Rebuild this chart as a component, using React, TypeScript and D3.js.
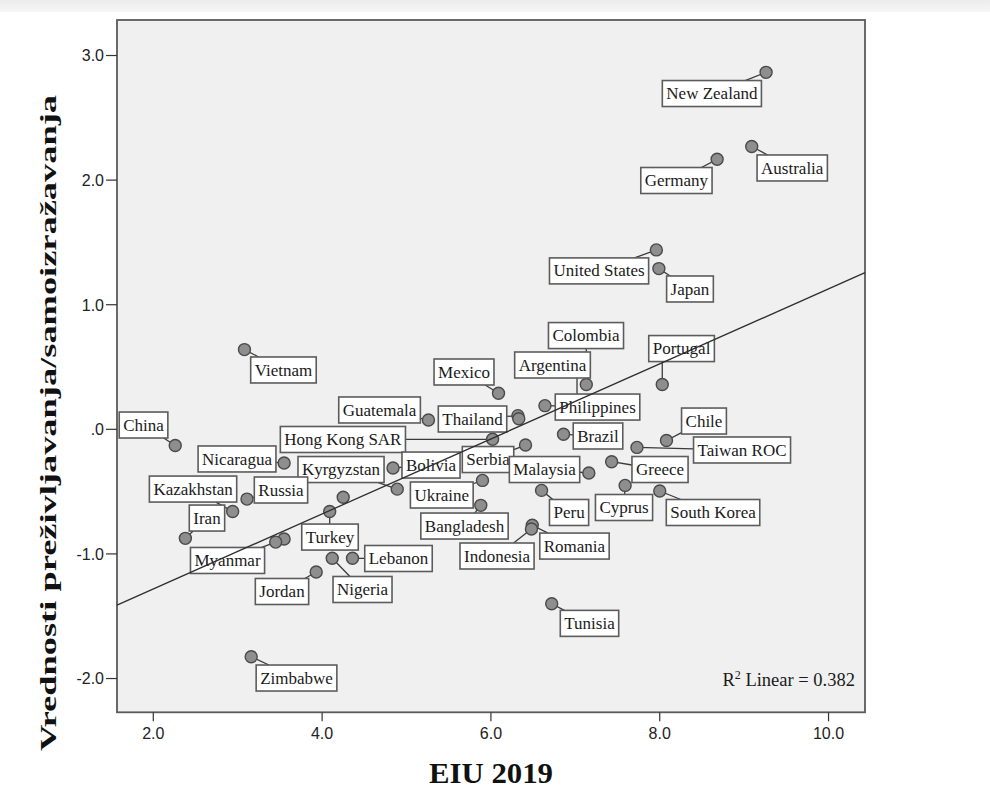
import React, { useEffect, useRef } from "react";
import * as d3 from "d3";

// ---- data ----
const countries = [
  "New Zealand", "Australia", "Germany", "United States", "Japan", "Colombia",
  "Argentina", "Portugal", "Mexico", "Philippines", "Thailand", "Brazil",
  "Chile", "Taiwan ROC", "Serbia", "Malaysia", "Greece", "Hong Kong SAR",
  "Peru", "Cyprus", "South Korea", "Ukraine", "Bangladesh", "Romania",
  "Indonesia", "Tunisia", "Guatemala", "Vietnam", "China", "Nicaragua",
  "Bolivia", "Kyrgyzstan", "Kazakhstan", "Russia", "Iran", "Myanmar",
  "Turkey", "Lebanon", "Nigeria", "Jordan", "Zimbabwe", "", "", "",
];
const eiu2019 = [
  9.26, 9.09, 8.68, 7.96, 7.99, 7.13,
  7.02, 8.03, 6.09, 6.64, 6.32, 6.86,
  8.08, 7.73, 6.41, 7.16, 7.43, 6.02,
  6.6, 7.59, 8.0, 5.9, 5.88, 6.49,
  6.48, 6.72, 5.26, 3.08, 2.26, 3.55,
  4.84, 4.89, 2.94, 3.11, 2.38, 3.55,
  4.09, 4.36, 4.12, 3.93, 3.16, 4.25, 3.45, 6.33,
];
const survivalSelfExpression = [
  2.865, 2.27, 2.167, 1.44, 1.29, 0.36,
  0.2, 0.36, 0.29, 0.19, 0.11, -0.04,
  -0.09, -0.145, -0.126, -0.35, -0.26, -0.08,
  -0.49, -0.45, -0.495, -0.41, -0.61, -0.77,
  -0.8, -1.4, 0.075, 0.64, -0.13, -0.27,
  -0.31, -0.48, -0.66, -0.56, -0.875, -0.88,
  -0.66, -1.035, -1.035, -1.145, -1.825, -0.545, -0.905, 0.085,
];

// label box placement (box centre relative to its point, in px)
const labelDx = [
  -54.2, 40.5, -40.7, -57.3, 31.1, -0.3,
  -24.5, 19.3, -34.5, 52.6, -45.4, 34.5,
  37.5, 105.1, -37.5, -44.3, 48.4, -149.7,
  27.5, -1.1, 53.3, -40.7, -16.3, 42.2,
  -34.4, 37.8, -48.9, 39, -31.7, -47.1,
  38, -56.2, -39.6, 34, 21.6, -56.6,
  0.3, 46, 30.3, -34.2, 45.3, 0, 0, 0,
];
const labelDy = [
  21.2, 21.5, 21.2, 21, 20.4, -48.9,
  -39.4, -35.9, -21.2, 1.4, 3.4, 1.7,
  -19.5, 2.6, 14.5, -3.4, 7.8, 0.2,
  22.1, 22.1, 21.5, 14.6, 20.7, 20.8,
  27, 19.6, -10, 20.4, -20.5, -4,
  -2.9, -19.6, -22.5, -9.1, -20.3, 21.5,
  25.5, 0.2, 31.2, 19.5, 21.3, 0, 0, 0,
];
// labels whose leader drops straight to the nearest box edge
const straightLeaders = ["Colombia", "Argentina", "Portugal", "Turkey"];

const xTicks = [2, 4, 6, 8, 10];
const yTicks = [-2, -1, 0, 1, 2, 3];
const xDomain = [1.57, 10.432];
const yDomain = [-2.271, 3.285];
const fitIntercept = -1.883;
const fitSlope = 0.301;
const r2Value = "0.382";
const xTitle = "EIU 2019";
const yTitle = "Vrednosti preživljavanja/samoizražavanja";

const W = 990;
const H = 804;

function fmtTick(v: number): string {
  if (v === 0) return ".0";
  return v.toFixed(1);
}

export default function App() {
  const ref = useRef<SVGSVGElement | null>(null);

  useEffect(() => {
    const svg = d3.select(ref.current);
    svg.selectAll("*").remove();

    const left = 117, right = 865, top = 20, bottom = 712.3;
    const x = d3.scaleLinear().domain(xDomain).range([left, right]);
    const y = d3.scaleLinear().domain(yDomain).range([bottom, top]);

    // page background
    const defs = svg.append("defs");
    const grad = defs.append("linearGradient").attr("id", "topband").attr("x1", 0).attr("y1", 0).attr("x2", 0).attr("y2", 1);
    grad.append("stop").attr("offset", "0%").attr("stop-color", "#ececec");
    grad.append("stop").attr("offset", "100%").attr("stop-color", "#f6f6f6");
    svg.append("rect").attr("x", 0).attr("y", 0).attr("width", W).attr("height", H).attr("fill", "#ffffff");
    svg.append("rect").attr("x", 0).attr("y", 0).attr("width", W).attr("height", 12).attr("fill", "url(#topband)");

    // frame
    svg.append("rect")
      .attr("x", left).attr("y", top)
      .attr("width", right - left).attr("height", bottom - top)
      .attr("fill", "#f0f0f0").attr("stroke", "#5a5a5a").attr("stroke-width", 1.8);

    const tickFont = "'Liberation Sans', Arial, sans-serif";
    // y ticks
    const yg = svg.append("g");
    yTicks.forEach((t) => {
      const py = y(t);
      yg.append("line").attr("x1", left - 11).attr("x2", left).attr("y1", py).attr("y2", py)
        .attr("stroke", "#333").attr("stroke-width", 1.2);
      yg.append("text").attr("x", left - 13).attr("y", py + 5.8)
        .attr("text-anchor", "end").attr("font-family", tickFont).attr("font-size", 16)
        .attr("fill", "#222").text(fmtTick(t));
    });
    // x ticks
    const xg = svg.append("g");
    xTicks.forEach((t) => {
      const px = x(t);
      xg.append("line").attr("x1", px).attr("x2", px).attr("y1", bottom).attr("y2", bottom + 9)
        .attr("stroke", "#333").attr("stroke-width", 1.2);
      xg.append("text").attr("x", px).attr("y", 739)
        .attr("text-anchor", "middle").attr("font-family", tickFont).attr("font-size", 16)
        .attr("fill", "#222").text(fmtTick(t));
    });

    // axis titles
    svg.append("text")
      .attr("x", 491).attr("y", 783)
      .attr("text-anchor", "middle")
      .attr("font-family", "'Liberation Serif', 'Times New Roman', serif")
      .attr("font-weight", "bold").attr("font-size", 29)
      .attr("textLength", 124).attr("lengthAdjust", "spacingAndGlyphs")
      .attr("fill", "#111").text(xTitle);
    svg.append("text")
      .attr("transform", "translate(56,423) rotate(-90)")
      .attr("text-anchor", "middle")
      .attr("font-family", "'Liberation Serif', 'Times New Roman', serif")
      .attr("font-weight", "bold").attr("font-size", 24)
      .attr("textLength", 656).attr("lengthAdjust", "spacingAndGlyphs")
      .attr("fill", "#111").text(yTitle);

    const labelFont = "'Liberation Serif', 'Times New Roman', serif";
    const pts = countries.map((name, i) => ({
      name,
      px: x(eiu2019[i]),
      py: y(survivalSelfExpression[i]),
      cx: x(eiu2019[i]) + labelDx[i],
      cy: y(survivalSelfExpression[i]) + labelDy[i],
    }));

    // measure label widths
    const measureG = svg.append("g").attr("visibility", "hidden");
    const widths = pts.map((p) => {
      if (!p.name) return 0;
      const t = measureG.append("text").attr("font-family", labelFont).attr("font-size", 17).text(p.name);
      const w = (t.node() as SVGTextElement).getComputedTextLength();
      return w + 8;
    });
    measureG.remove();
    const boxH = 26;

    // leaders
    const leaderG = svg.append("g");
    pts.forEach((p, i) => {
      if (!p.name) return;
      const w = widths[i];
      const x0 = p.cx - w / 2, x1 = p.cx + w / 2, y0 = p.cy - boxH / 2, y1 = p.cy + boxH / 2;
      let nx: number, ny: number;
      if (straightLeaders.includes(p.name)) {
        nx = Math.max(x0, Math.min(x1, p.px));
        ny = Math.max(y0, Math.min(y1, p.py));
      } else {
        // ray from point toward box centre, stopping at the box edge
        const dx = p.cx - p.px, dy = p.cy - p.py;
        let tEnter = 0;
        if (dx !== 0) {
          const ta = (x0 - p.px) / dx, tb = (x1 - p.px) / dx;
          tEnter = Math.max(tEnter, Math.min(ta, tb));
        }
        if (dy !== 0) {
          const ta = (y0 - p.py) / dy, tb = (y1 - p.py) / dy;
          tEnter = Math.max(tEnter, Math.min(ta, tb));
        }
        nx = p.px + dx * tEnter;
        ny = p.py + dy * tEnter;
      }
      const d = Math.hypot(nx - p.px, ny - p.py);
      if (d > 6.5) {
        leaderG.append("line").attr("x1", p.px).attr("y1", p.py).attr("x2", nx).attr("y2", ny)
          .attr("stroke", "#3a3a3a").attr("stroke-width", 1.3);
      }
    });

    // points
    svg.append("g").selectAll("circle").data(pts).join("circle")
      .attr("cx", (d) => d.px).attr("cy", (d) => d.py).attr("r", 6)
      .attr("fill", "#8e8e8e").attr("stroke", "#4a4a4a").attr("stroke-width", 1.4);

    // label boxes
    const boxG = svg.append("g");
    pts.forEach((p, i) => {
      if (!p.name) return;
      const w = widths[i];
      boxG.append("rect")
        .attr("x", p.cx - w / 2).attr("y", p.cy - boxH / 2)
        .attr("width", w).attr("height", boxH)
        .attr("fill", "#ffffff").attr("stroke", "#5c5c5c").attr("stroke-width", 1.6);
      boxG.append("text")
        .attr("x", p.cx).attr("y", p.cy + 5.6)
        .attr("text-anchor", "middle").attr("font-family", labelFont).attr("font-size", 17)
        .attr("fill", "#1a1a1a").text(p.name);
    });

    // fit line
    const fitLine = d3.line<number>().x((v) => x(v)).y((v) => y(fitIntercept + fitSlope * v));
    svg.append("path").datum(xDomain).attr("d", fitLine)
      .attr("fill", "none").attr("stroke", "#2e2e2e").attr("stroke-width", 1.3);

    // R² annotation
    const r2 = svg.append("text").attr("x", 855).attr("y", 686).attr("text-anchor", "end")
      .attr("font-family", labelFont).attr("font-size", 18.5).attr("fill", "#1a1a1a");
    r2.append("tspan").text("R");
    r2.append("tspan").attr("font-size", 12).attr("dy", -7.5).text("2");
    r2.append("tspan").attr("dy", 7.5).text(` Linear = ${r2Value}`);
  }, []);

  return (
    <div style={{ position: "absolute", left: 0, top: 0 }}>
      <svg ref={ref} width={W} height={H} style={{ display: "block" }} />
    </div>
  );
}
